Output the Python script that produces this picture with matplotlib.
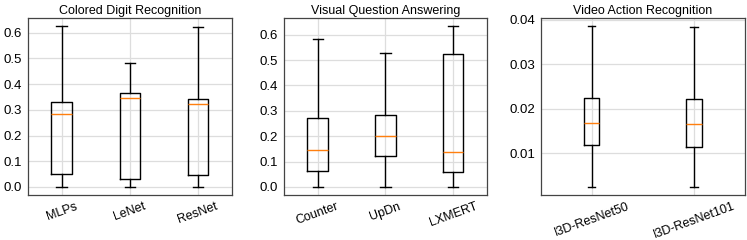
import matplotlib.pyplot as plt

plt.rcParams['font.family'] = ['Liberation Sans', 'DejaVu Sans']

# box statistics: (low whisker, q1, median, q3, high whisker)
titles = ["Colored Digit Recognition", "Visual Question Answering", "Video Action Recognition"]

digit_names = ["MLPs", "LeNet", "ResNet"]
digit_low = [0.0, 0.0, 0.0]
digit_q1 = [0.049, 0.032, 0.047]
digit_med = [0.284, 0.345, 0.321]
digit_q3 = [0.330, 0.365, 0.342]
digit_high = [0.626, 0.484, 0.623]

vqa_names = ["Counter", "UpDn", "LXMERT"]
vqa_low = [0.0, 0.0, 0.0]
vqa_q1 = [0.062, 0.122, 0.058]
vqa_med = [0.147, 0.199, 0.139]
vqa_q3 = [0.271, 0.284, 0.525]
vqa_high = [0.583, 0.528, 0.634]

video_names = ["I3D-ResNet50", "I3D-ResNet101"]
video_low = [0.0024, 0.0024]
video_q1 = [0.0118, 0.0114]
video_med = [0.0169, 0.0165]
video_q3 = [0.0225, 0.0222]
video_high = [0.0386, 0.0384]

# y tick values per panel
yticks = [
    [0.0, 0.1, 0.2, 0.3, 0.4, 0.5, 0.6],
    [0.0, 0.1, 0.2, 0.3, 0.4, 0.5, 0.6],
    [0.01, 0.02, 0.03, 0.04],
]

groups = [
    (digit_names, digit_low, digit_q1, digit_med, digit_q3, digit_high),
    (vqa_names, vqa_low, vqa_q1, vqa_med, vqa_q3, vqa_high),
    (video_names, video_low, video_q1, video_med, video_q3, video_high),
]

fig = plt.figure(figsize=(7.47, 2.4), dpi=100)
lefts = [27.5, 283.7, 540.5]
widths = [204.5, 203.5, 204.5]

for i, (names, lo, q1, med, q3, hi) in enumerate(groups):
    ax = fig.add_axes([lefts[i] / 747, 45 / 240, widths[i] / 747, 177 / 240])
    stats = []
    for j in range(len(names)):
        stats.append(dict(label=names[j], whislo=lo[j], q1=q1[j], med=med[j],
                          q3=q3[j], whishi=hi[j], fliers=[]))
    w = min(max(0.15 * (len(names) - 1), 0.15), 0.5)
    ax.bxp(stats, widths=w, showfliers=False,
           boxprops=dict(color='black', linewidth=1.0),
           whiskerprops=dict(color='black', linewidth=1.0),
           capprops=dict(color='black', linewidth=1.0),
           medianprops=dict(color='#ff7f0e', linewidth=1.0))
    ax.set_yticks(yticks[i])
    ax.set_title(titles[i], fontsize=9, pad=3)
    ax.grid(True, color='#dddddd', linewidth=0.9)
    ax.set_axisbelow(True)
    for s in ax.spines.values():
        s.set_color('#444444')
        s.set_linewidth(0.9)
    ax.tick_params(length=0, labelsize=9.5, pad=4)
    ax.tick_params(axis='x', labelrotation=20, labelsize=9, pad=4)

fig.savefig("out.png", dpi=100)
